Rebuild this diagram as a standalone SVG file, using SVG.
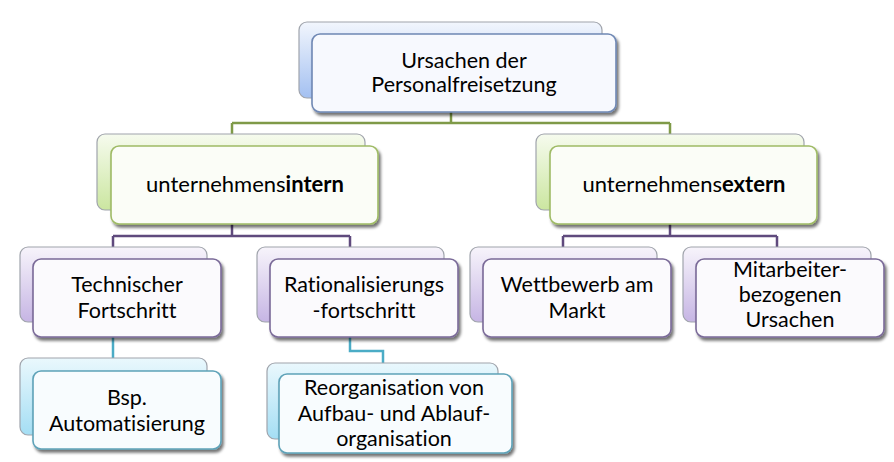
<svg xmlns="http://www.w3.org/2000/svg" width="894" height="462" viewBox="0 0 894 462">
<defs>
<linearGradient id="gBlue" x1="0" y1="0" x2="0" y2="1"><stop offset="0" stop-color="#f2f6fd"/><stop offset="1" stop-color="#a3c0f1"/></linearGradient>
<linearGradient id="gGreen" x1="0" y1="0" x2="0" y2="1"><stop offset="0" stop-color="#f6fbee"/><stop offset="1" stop-color="#cbe6a0"/></linearGradient>
<linearGradient id="gPurple" x1="0" y1="0" x2="0" y2="1"><stop offset="0" stop-color="#f7f4fb"/><stop offset="1" stop-color="#c6b5e4"/></linearGradient>
<linearGradient id="gCyan" x1="0" y1="0" x2="0" y2="1"><stop offset="0" stop-color="#eaf8fd"/><stop offset="1" stop-color="#a4def4"/></linearGradient>
<filter id="sh" x="-10%" y="-10%" width="125%" height="135%">
<feGaussianBlur in="SourceAlpha" stdDeviation="1.5"/>
<feOffset dx="1.5" dy="2.5" result="b"/>
<feComponentTransfer><feFuncA type="linear" slope="0.55"/></feComponentTransfer>
<feMerge><feMergeNode/><feMergeNode in="SourceGraphic"/></feMerge>
</filter>
</defs>
<style>
.back{stroke:#a0a4ac;stroke-width:1.2}
.front{stroke-width:1.6;filter:url(#sh)}
.fb{fill:#f7f9fe;stroke:#6f88b4}
.fg{fill:#fbfdf7;stroke:#9fbb66}
.fp{fill:#fbfafd;stroke:#7a6a98}
.fc{fill:#f8fcfe;stroke:#5ea2b8}
text{font-family:Lato,"Liberation Sans",sans-serif;font-size:21.5px;fill:#000;text-anchor:middle;font-variant-ligatures:none}
.w{font-size:22px}
.b{font-weight:bold}
.cg{stroke:#7f9a48;stroke-width:2.5;fill:none}
.cp{stroke:#5f4a7d;stroke-width:2.5;fill:none}
.cc{stroke:#4bacc6;stroke-width:2.5;fill:none}
</style>
<g id="connectors">
<path class="cg" d="M451 112V123M232 123H670M232 123V134M670 123V134"/>
<path class="cp" d="M232 224V236M113 236H350M113 236V247M350 236V247"/>
<path class="cp" d="M670 224V236M563 236H777M563 236V247M777 236V247"/>
<path class="cc" d="M113 337V358"/>
<path class="cc" d="M350 337V351H383V363"/>
</g>
<g id="n-root">
<rect class="back" x="299" y="22" width="303" height="76" rx="8" fill="url(#gBlue)"/>
<rect class="front fb" x="312" y="34" width="304" height="78" rx="8"/>
<text x="464" y="68">Ursachen der</text>
<text x="464" y="92">Personalfreisetzung</text>
</g>
<g id="n-intern">
<rect class="back" x="97" y="134" width="268" height="76" rx="8" fill="url(#gGreen)"/>
<rect class="front fg" x="111" y="146" width="267" height="78" rx="8"/>
<text class="w" x="245" y="192">unternehmens<tspan class="b">intern</tspan></text>
</g>
<g id="n-extern">
<rect class="back" x="536" y="134" width="268" height="76" rx="8" fill="url(#gGreen)"/>
<rect class="front fg" x="550" y="146" width="267" height="78" rx="8"/>
<text class="w" x="684" y="192">unternehmens<tspan class="b">extern</tspan></text>
</g>
<g id="n-tech">
<rect class="back" x="20" y="247" width="187" height="75" rx="8" fill="url(#gPurple)"/>
<rect class="front fp" x="33" y="259" width="188" height="78" rx="8"/>
<text x="127" y="292">Technischer</text>
<text x="127" y="318">Fortschritt</text>
</g>
<g id="n-rat">
<rect class="back" x="257" y="247" width="187" height="75" rx="8" fill="url(#gPurple)"/>
<rect class="front fp" x="270" y="259" width="188" height="78" rx="8"/>
<text x="364" y="292">Rationalisierungs</text>
<text x="364" y="318">-fortschritt</text>
</g>
<g id="n-wett">
<rect class="back" x="470" y="247" width="187" height="75" rx="8" fill="url(#gPurple)"/>
<rect class="front fp" x="483" y="259" width="188" height="78" rx="8"/>
<text x="577" y="292">Wettbewerb am</text>
<text x="577" y="318">Markt</text>
</g>
<g id="n-mit">
<rect class="back" x="683" y="247" width="188" height="75" rx="8" fill="url(#gPurple)"/>
<rect class="front fp" x="696" y="259" width="188" height="78" rx="8"/>
<text x="790" y="277">Mitarbeiter-</text>
<text x="790" y="302">bezogenen</text>
<text x="790" y="327">Ursachen</text>
</g>
<g id="n-bsp">
<rect class="back" x="20" y="358" width="187" height="77" rx="8" fill="url(#gCyan)"/>
<rect class="front fc" x="33" y="371" width="188" height="78" rx="8"/>
<text x="127" y="405">Bsp.</text>
<text x="127" y="431">Automatisierung</text>
</g>
<g id="n-reorg">
<rect class="back" x="267" y="363" width="231" height="76" rx="8" fill="url(#gCyan)"/>
<rect class="front fc" x="279" y="374" width="233" height="79" rx="8"/>
<text x="394" y="395">Reorganisation von</text>
<text x="394" y="421">Aufbau- und Ablauf-</text>
<text x="394" y="446">organisation</text>
</g>
</svg>
